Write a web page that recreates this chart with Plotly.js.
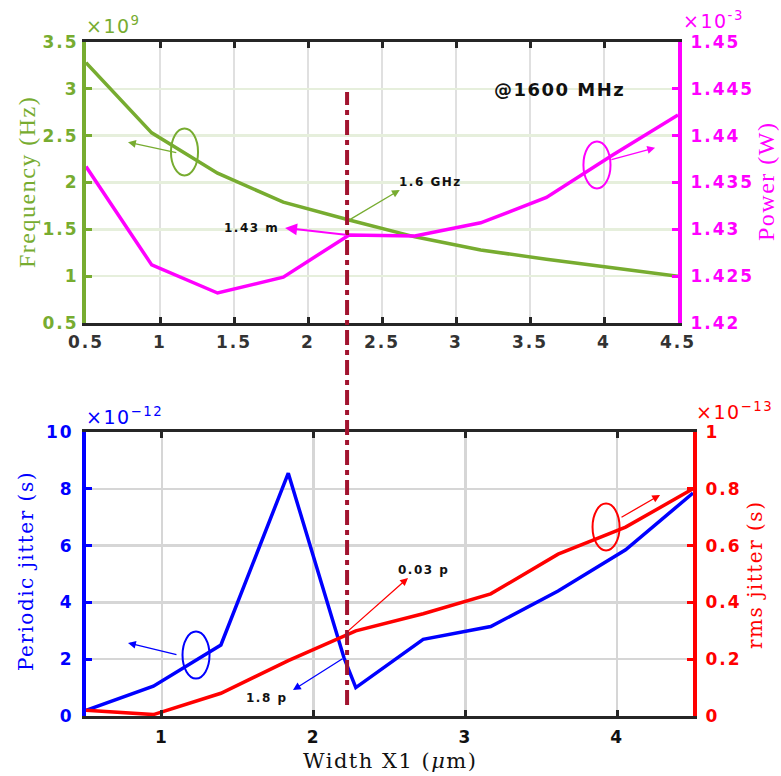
<!DOCTYPE html>
<html>
<head>
<meta charset="utf-8">
<script src="https://cdn.plot.ly/plotly-3.0.1.min.js"></script>
<style>
html,body{margin:0;padding:0;background:#fff;}
#chart{width:781px;height:776px;}
g.xtick text, g.ytick text, g.x2tick text, g.y2tick text, g.y3tick text, g.y4tick text{letter-spacing:2px;}
.annotation-text{letter-spacing:1.5px;}
</style>
</head>
<body>
<div id="chart"></div>
<script>
// ---------- DATA ----------
// Top panel: Frequency (x1e9 Hz) and Power (x1e-3 W) vs Width X1 (um)
const widthTop = [0.5, 0.944, 1.389, 1.833, 2.278, 2.722, 3.167, 3.611, 4.056, 4.5];
const frequency = [3.28, 2.53, 2.10, 1.79, 1.60, 1.42, 1.28, 1.18, 1.09, 1.00];      // x1e9 Hz
const power = [1.4367, 1.4262, 1.4232, 1.4249, 1.4294, 1.4293, 1.4307, 1.4334, 1.4379, 1.4422]; // x1e-3 W

// Bottom panel: Periodic jitter (x1e-12 s) and rms jitter (x1e-13 s)
const widthPJ = [0.5, 0.944, 1.389, 1.833, 2.2, 2.278, 2.722, 3.167, 3.611, 4.056, 4.5];
const periodicJitter = [0.2, 1.05, 2.5, 8.55, 2.05, 1.0, 2.7, 3.15, 4.4, 5.85, 7.85];
const widthRms = [0.5, 0.944, 1.389, 1.833, 2.278, 2.722, 3.167, 3.611, 4.056, 4.5];
const rmsJitter = [0.02, 0.005, 0.08, 0.195, 0.30, 0.36, 0.43, 0.57, 0.665, 0.80];

const markerWidth = 2.264;   // vertical dash-dot marker position
const topXTicks = [0.5, 1, 1.5, 2, 2.5, 3, 3.5, 4, 4.5];
const botXTicks = [1, 2, 3, 4];

// ---------- STYLE ----------
const GREEN = '#77AC30', MAG = '#FF00FF', BLUE = '#0000FF', RED = '#FF0000', DARKRED = '#A2142F';
const tickFont = (c) => ({family: 'DejaVu Sans', size: 17, color: c, weight: 'bold'});
const serif = 'DejaVu Serif';
const W = 781, H = 776;
const px = (x) => x / W, py = (y) => 1 - y / H;

const traces = [
  {x: widthTop, y: frequency, xaxis: 'x', yaxis: 'y', mode: 'lines', line: {color: GREEN, width: 3.5}, hoverinfo: 'none'},
  {x: widthTop, y: power, xaxis: 'x', yaxis: 'y2', mode: 'lines', line: {color: MAG, width: 3.5}, hoverinfo: 'none'},
  {x: widthPJ, y: periodicJitter, xaxis: 'x2', yaxis: 'y3', mode: 'lines', line: {color: BLUE, width: 3.5}, hoverinfo: 'none'},
  {x: widthRms, y: rmsJitter, xaxis: 'x2', yaxis: 'y4', mode: 'lines', line: {color: RED, width: 3.5}, hoverinfo: 'none'}
];

const xCommon = {
  showline: true, linecolor: '#262626', linewidth: 3, mirror: 'ticks',
  ticks: 'inside', ticklen: 6, tickwidth: 3, tickcolor: '#262626',
  showgrid: true, gridwidth: 2.5, zeroline: false, fixedrange: true
};
const yCommon = {
  showline: true, linewidth: 4, ticks: 'inside', ticklen: 6, tickwidth: 3,
  zeroline: false, fixedrange: true
};

const layout = {
  width: W, height: H,
  margin: {l: 0, r: 0, t: 0, b: 0},
  paper_bgcolor: '#fff', plot_bgcolor: '#fff',
  showlegend: false,
  xaxis: Object.assign({}, xCommon, {
    domain: [px(86), px(678)], anchor: 'y', range: [0.5, 4.5],
    tickvals: topXTicks, ticktext: topXTicks.map(String),
    gridcolor: '#e0e0e0', tickfont: tickFont('#333333'), ticklabelstandoff: 2
  }),
  yaxis: Object.assign({}, yCommon, {
    domain: [py(323), py(42)], anchor: 'x', range: [0.5, 3.5], dtick: 0.5,
    linecolor: GREEN, tickcolor: GREEN, showgrid: true, gridcolor: '#e6efdc', gridwidth: 2.5,
    tickfont: tickFont(GREEN), ticklabelstandoff: 0
  }),
  yaxis2: Object.assign({}, yCommon, {
    overlaying: 'y', side: 'right', anchor: 'x', range: [1.42, 1.45], dtick: 0.005,
    linecolor: MAG, tickcolor: MAG, showgrid: false, tickfont: tickFont(MAG), ticklabelstandoff: 5
  }),
  xaxis2: Object.assign({}, xCommon, {
    domain: [px(86), px(693)], anchor: 'y3', range: [0.5, 4.5],
    tickvals: botXTicks, gridcolor: '#d6d6d6', tickfont: tickFont('#111111'), ticklabelstandoff: 4
  }),
  yaxis3: Object.assign({}, yCommon, {
    domain: [py(716), py(432)], anchor: 'x2', range: [0, 10], dtick: 2,
    linecolor: BLUE, tickcolor: BLUE, showgrid: true, gridcolor: '#d6d6d6', gridwidth: 2.5,
    tickfont: tickFont(BLUE), ticklabelstandoff: 5
  }),
  yaxis4: Object.assign({}, yCommon, {
    overlaying: 'y3', side: 'right', anchor: 'x2', range: [0, 1], dtick: 0.2,
    linecolor: RED, tickcolor: RED, showgrid: false, tickfont: tickFont(RED), ticklabelstandoff: 5
  }),
  shapes: [
    {type: 'line', xref: 'x', yref: 'paper', x0: markerWidth, x1: markerWidth, y0: py(705), y1: py(92),
     line: {color: DARKRED, width: 4, dash: '15px,5px,5px,5px'}, layer: 'above'},
    // ellipses marking the curves
    {type: 'circle', xref: 'x', yref: 'y', x0: 1.074, x1: 1.257, y0: 2.075, y1: 2.577, line: {color: GREEN, width: 2}},
    {type: 'circle', xref: 'x', yref: 'y', x0: 3.861, x1: 4.044, y0: 1.936, y1: 2.438, line: {color: MAG, width: 2}},
    {type: 'circle', xref: 'x2', yref: 'y3', x0: 1.136, x1: 1.314, y0: 1.32, y1: 2.975, line: {color: BLUE, width: 2}},
    {type: 'circle', xref: 'x2', yref: 'y3', x0: 3.838, x1: 4.016, y0: 5.83, y1: 7.48, line: {color: RED, width: 2}}
  ],
  annotations: []
};

const A = layout.annotations;
function arrow(xref, yref, x0, y0, x1, y1, color, width, size) {
  A.push({xref: xref, yref: yref, axref: xref, ayref: yref, x: x1, y: y1, ax: x0, ay: y0,
    text: '', showarrow: true, arrowhead: 2, arrowsize: size || 1.2, arrowwidth: width || 1.2, arrowcolor: color});
}
function label(xref, yref, x, y, text, size, color, opts) {
  A.push(Object.assign({xref: xref, yref: yref, x: x, y: y, text: text, showarrow: false,
    font: {family: 'DejaVu Sans', size: size, color: color || '#111', weight: 'bold'}}, opts || {}));
}

// Top panel arrows
arrow('x', 'y', 1.12, 2.315, 0.784, 2.43, GREEN, 1.3);
arrow('x', 'y', widthTop[4], frequency[4], 2.62, 1.92, GREEN, 1.3);
arrow('x', 'y', 2.264, 1.44, 1.845, 1.514, MAG, 2);
arrow('x', 'y', 4.04, 2.24, 4.345, 2.37, MAG, 1.3);
label('x', 'y', 2.83, 2.005, '1.6 GHz', 12);
label('x', 'y', 1.615, 1.514, '1.43 m', 12);
label('x', 'y', 3.70, 2.99, '@1600 MHz', 18);

// Bottom panel arrows
arrow('x2', 'y3', 1.106, 2.15, 0.777, 2.57, BLUE, 1.3);
arrow('x2', 'y3', widthPJ[4], periodicJitter[4], 1.864, 0.915, BLUE, 1.3);
arrow('x2', 'y3', 2.22, 2.96, 2.622, 4.86, RED, 1.3);
arrow('x2', 'y3', 4.019, 6.97, 4.283, 7.78, RED, 1.3);
label('x2', 'y3', 1.693, 0.634, '1.8 p', 12);
label('x2', 'y3', 2.727, 5.14, '0.03 p', 12);

// exponent labels
const expo = (x, y, txt, color, anchor) => A.push({xref: 'paper', yref: 'paper', x: px(x), y: py(y), xanchor: anchor || 'left', yanchor: 'middle',
  text: txt, showarrow: false, font: {family: 'DejaVu Sans', size: 19, color: color}});
expo(84, 25, '×10<sup>9</sup>', GREEN);
expo(681, 20, '×10<sup>-3</sup>', MAG);
expo(84, 416, '×10<sup>−12</sup>', BLUE);
expo(694, 411, '×10<sup>−13</sup>', RED);

// axis titles
const atitle = (x, y, txt, color, size, rot, fam) => A.push({xref: 'paper', yref: 'paper', x: px(x), y: py(y), xanchor: 'center', yanchor: 'middle',
  text: txt, textangle: rot, showarrow: false, font: {family: fam || serif, size: size, color: color}});
atitle(27, 182, 'Frequency (Hz)', GREEN, 24, -90, 'Liberation Serif');
atitle(766, 182, 'Power (W)', MAG, 24, -90, 'Liberation Serif');
atitle(26, 571, 'Periodic jitter (s)', BLUE, 20, -90);
atitle(755, 575, 'rms jitter (s)', RED, 20, -90);
atitle(390, 761, 'Width X1 (<i>μ</i>m)', '#111', 21, 0);

Plotly.newPlot('chart', traces, layout, {displayModeBar: false, staticPlot: true});
</script>
</body>
</html>
